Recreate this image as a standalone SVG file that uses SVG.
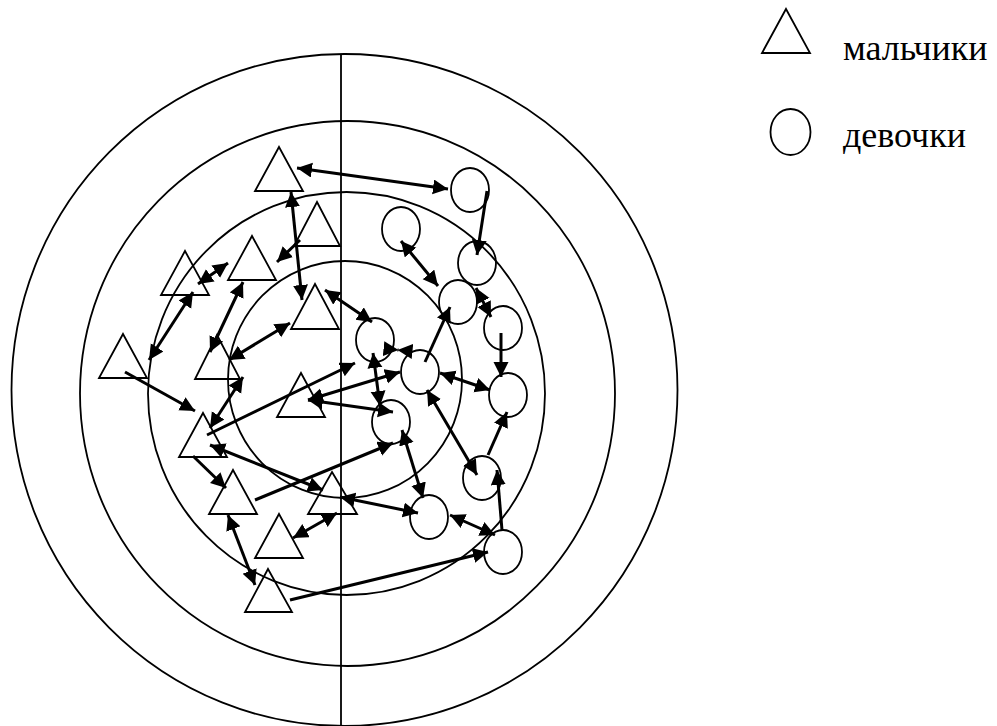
<svg xmlns="http://www.w3.org/2000/svg" width="997" height="726" viewBox="0 0 997 726">
<style>
.ring{fill:none;stroke:#000;stroke-width:1.8}
.boy{fill:none;stroke:#000;stroke-width:1.8;stroke-linejoin:miter}
.girl{fill:none;stroke:#000;stroke-width:1.8}
.e{stroke:#000;stroke-width:3;fill:none}
.one{marker-end:url(#ah)}
.two{marker-start:url(#ah);marker-end:url(#ah)}
.lbl{font-family:"Liberation Serif","Times New Roman",serif;font-size:36px;fill:#000}
</style>
<defs>
<marker id="ah" markerUnits="userSpaceOnUse" markerWidth="16" markerHeight="16" refX="15" refY="7.5" orient="auto-start-reverse" viewBox="0 0 16 16">
<path d="M0,0 L15,7.5 L0,15 z" fill="#000"/>
</marker>
</defs>
<rect width="997" height="726" fill="#fff"/>
<g id="rings">
<ellipse class="ring" cx="344.5" cy="390" rx="333" ry="336"/>
<ellipse class="ring" cx="347.5" cy="393.5" rx="267.5" ry="272.5"/>
<ellipse class="ring" cx="346.5" cy="393.5" rx="198.5" ry="201.5"/>
<ellipse class="ring" cx="345" cy="379.5" rx="117" ry="118.5"/>
<line x1="341" y1="54" x2="341" y2="726" stroke="#000" stroke-width="1.8"/>
</g>
<g id="boys">
<g id="T1"><polygon class="boy" points="279,147 303,191 255,191"/></g>
<g id="T2"><polygon class="boy" points="317,202 340,246 294,246"/></g>
<g id="T3"><polygon class="boy" points="252,236 276,280 228,280"/></g>
<g id="T4"><polygon class="boy" points="185,251 209,295 161,295"/></g>
<g id="T5"><polygon class="boy" points="315,284 339,329 291,329"/></g>
<g id="T6"><polygon class="boy" points="123,334 147,378 99,378"/></g>
<g id="T7"><polygon class="boy" points="217,335 240,379 195,379"/></g>
<g id="T8"><polygon class="boy" points="301,373 325,417 277,417"/></g>
<g id="T9"><polygon class="boy" points="203,413 227,457 179,457"/></g>
<g id="T10"><polygon class="boy" points="233,470 257,514 209,514"/></g>
<g id="T11"><polygon class="boy" points="332,472 357,514 308,514"/></g>
<g id="T12"><polygon class="boy" points="279,514 303,558 255,558"/></g>
<g id="T13"><polygon class="boy" points="268,569 292,612 245,612"/></g>
</g>
<g id="girls">
<g id="C1"><ellipse class="girl" cx="470" cy="190" rx="19" ry="22"/></g>
<g id="C2"><ellipse class="girl" cx="401" cy="229" rx="19" ry="22"/></g>
<g id="C3"><ellipse class="girl" cx="477" cy="263" rx="19" ry="22"/></g>
<g id="C4"><ellipse class="girl" cx="458" cy="302" rx="19" ry="22"/></g>
<g id="C5"><ellipse class="girl" cx="503" cy="328" rx="19" ry="22"/></g>
<g id="C6"><ellipse class="girl" cx="375" cy="340" rx="19" ry="22"/></g>
<g id="C7"><ellipse class="girl" cx="420" cy="372" rx="19" ry="22"/></g>
<g id="C8"><ellipse class="girl" cx="508" cy="395" rx="19" ry="22"/></g>
<g id="C9"><ellipse class="girl" cx="391" cy="422" rx="19" ry="22"/></g>
<g id="C10"><ellipse class="girl" cx="482" cy="478" rx="19" ry="22"/></g>
<g id="C11"><ellipse class="girl" cx="429" cy="517" rx="19" ry="22"/></g>
<g id="C12"><ellipse class="girl" cx="503" cy="552" rx="19" ry="22"/></g>
</g>
<g id="connectors">
<line class="e two" x1="297" y1="168" x2="448" y2="189"/>
<line class="e one" x1="487" y1="191" x2="477" y2="255"/>
<line class="e two" x1="291" y1="192" x2="302" y2="300"/>
<line class="e one" x1="300" y1="240" x2="277" y2="262"/>
<line class="e two" x1="198" y1="284" x2="228" y2="263"/>
<line class="e two" x1="193" y1="292" x2="149" y2="360"/>
<line class="e two" x1="243" y1="282" x2="210" y2="352"/>
<line class="e two" x1="290" y1="323" x2="229" y2="360"/>
<line class="e two" x1="325" y1="290" x2="372" y2="322"/>
<line class="e one" x1="125" y1="372" x2="195" y2="411"/>
<line class="e two" x1="243" y1="377" x2="210" y2="428"/>
<line class="e one" x1="207" y1="435" x2="355" y2="363"/>
<line class="e two" x1="308" y1="400" x2="400" y2="372"/>
<line class="e two" x1="308" y1="400" x2="393" y2="412"/>
<line class="e two" x1="210" y1="445" x2="323" y2="490"/>
<line class="e one" x1="193" y1="456" x2="226" y2="488"/>
<line class="e one" x1="255" y1="500" x2="393" y2="443"/>
<line class="e two" x1="228" y1="515" x2="255" y2="585"/>
<line class="e two" x1="337" y1="513" x2="293" y2="538"/>
<line class="e two" x1="340" y1="497" x2="418" y2="513"/>
<line class="e one" x1="290" y1="600" x2="488" y2="552"/>
<line class="e two" x1="450" y1="515" x2="495" y2="535"/>
<line class="e one" x1="502" y1="530" x2="497" y2="470"/>
<line class="e one" x1="488" y1="455" x2="507" y2="412"/>
<line class="e two" x1="427" y1="390" x2="477" y2="475"/>
<line class="e two" x1="402" y1="430" x2="423" y2="498"/>
<line class="e two" x1="373" y1="353" x2="380" y2="406"/>
<line class="e two" x1="397.5" y1="350" x2="398.5" y2="350.1"/>
<line class="e one" x1="425" y1="362" x2="450" y2="307"/>
<line class="e two" x1="476" y1="288" x2="491" y2="317"/>
<line class="e two" x1="401" y1="241" x2="438" y2="286"/>
<line class="e one" x1="501" y1="333" x2="501" y2="377"/>
<line class="e two" x1="440" y1="373" x2="490" y2="390"/>
</g>
<g id="legend">
<g id="legend-boy"><polygon class="boy" points="786,9 810,53 762,53"/></g>
<g id="legend-girl"><ellipse class="girl" cx="790.5" cy="132" rx="20" ry="23"/></g>
<text class="lbl" x="843" y="60">мальчики</text>
<text class="lbl" x="843" y="147">девочки</text>
</g>
</svg>
